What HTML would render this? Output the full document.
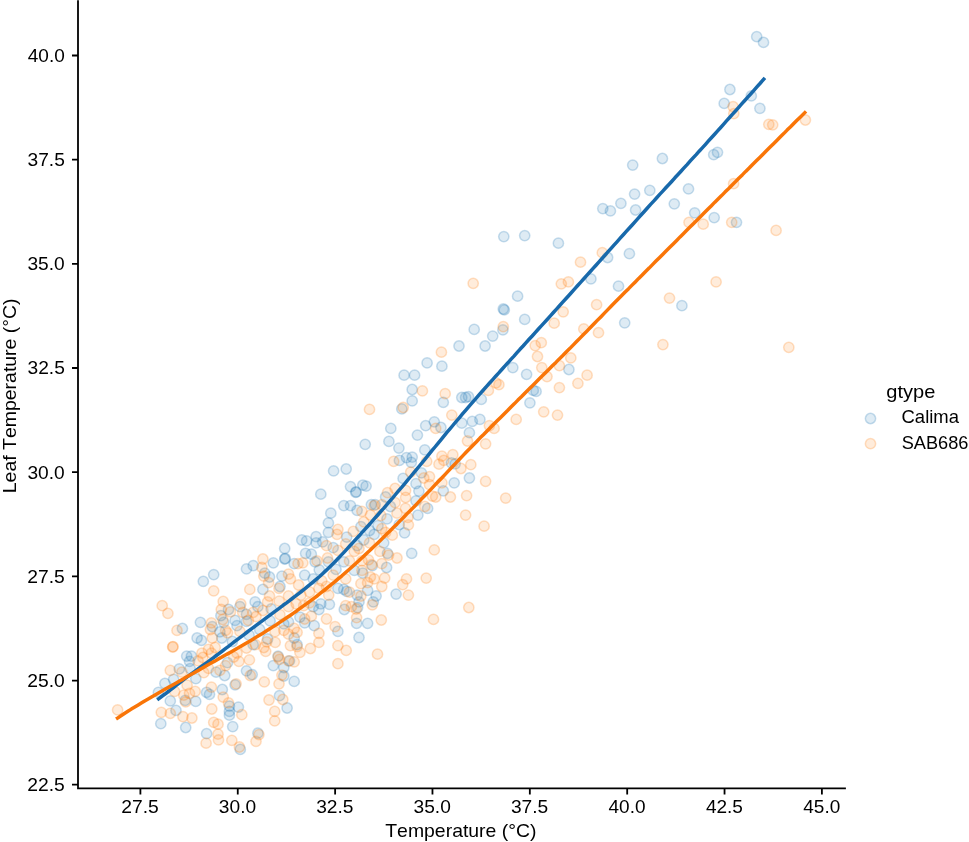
<!DOCTYPE html>
<html><head><meta charset="utf-8"><title>Leaf temperature vs temperature</title>
<style>html,body{margin:0;padding:0;background:#fff;overflow:hidden}svg{display:block;will-change:transform}text{font-family:"Liberation Sans",sans-serif;font-kerning:none}</style>
</head><body>
<svg width="969" height="842" viewBox="0 0 969 842" font-family="'Liberation Sans', sans-serif">
<rect width="969" height="842" fill="#fff"/>
<g fill="#1f77b4" fill-opacity="0.15" stroke="#1f77b4" stroke-opacity="0.24" stroke-width="1.5"><circle cx="158.4" cy="692.4" r="5.15"/><circle cx="170.3" cy="700.9" r="5.15"/><circle cx="160.8" cy="723.7" r="5.15"/><circle cx="176.0" cy="710.4" r="5.15"/><circle cx="206.6" cy="692.4" r="5.15"/><circle cx="209.5" cy="694.3" r="5.15"/><circle cx="185.2" cy="700.4" r="5.15"/><circle cx="195.7" cy="701.4" r="5.15"/><circle cx="222.3" cy="689.5" r="5.15"/><circle cx="229.4" cy="706.1" r="5.15"/><circle cx="229.4" cy="711.4" r="5.15"/><circle cx="229.4" cy="715.2" r="5.15"/><circle cx="238.4" cy="707.1" r="5.15"/><circle cx="185.7" cy="727.5" r="5.15"/><circle cx="232.7" cy="726.6" r="5.15"/><circle cx="206.6" cy="733.7" r="5.15"/><circle cx="240.3" cy="749.4" r="5.15"/><circle cx="257.9" cy="733.2" r="5.15"/><circle cx="235.1" cy="684.8" r="5.15"/><circle cx="294.2" cy="681.4" r="5.15"/><circle cx="279.5" cy="695.7" r="5.15"/><circle cx="287.1" cy="708.0" r="5.15"/><circle cx="179.3" cy="668.9" r="5.15"/><circle cx="173.6" cy="679.3" r="5.15"/><circle cx="239.9" cy="606.7" r="5.15"/><circle cx="255.1" cy="601.9" r="5.15"/><circle cx="257.9" cy="606.7" r="5.15"/><circle cx="228.5" cy="609.5" r="5.15"/><circle cx="246.5" cy="614.3" r="5.15"/><circle cx="200.4" cy="622.3" r="5.15"/><circle cx="182.4" cy="628.5" r="5.15"/><circle cx="212.3" cy="626.6" r="5.15"/><circle cx="220.9" cy="615.7" r="5.15"/><circle cx="223.7" cy="622.3" r="5.15"/><circle cx="235.1" cy="620.4" r="5.15"/><circle cx="237.0" cy="625.7" r="5.15"/><circle cx="219.9" cy="631.8" r="5.15"/><circle cx="221.8" cy="638.0" r="5.15"/><circle cx="197.1" cy="638.0" r="5.15"/><circle cx="201.4" cy="640.4" r="5.15"/><circle cx="246.5" cy="621.4" r="5.15"/><circle cx="186.7" cy="656.1" r="5.15"/><circle cx="191.4" cy="656.1" r="5.15"/><circle cx="189.5" cy="661.3" r="5.15"/><circle cx="253.2" cy="644.7" r="5.15"/><circle cx="227.5" cy="662.7" r="5.15"/><circle cx="216.1" cy="672.2" r="5.15"/><circle cx="224.7" cy="675.5" r="5.15"/><circle cx="246.5" cy="670.8" r="5.15"/><circle cx="252.2" cy="674.6" r="5.15"/><circle cx="313.2" cy="606.7" r="5.15"/><circle cx="318.9" cy="609.5" r="5.15"/><circle cx="329.4" cy="604.3" r="5.15"/><circle cx="320.8" cy="603.8" r="5.15"/><circle cx="299.9" cy="617.1" r="5.15"/><circle cx="304.7" cy="622.8" r="5.15"/><circle cx="314.2" cy="625.7" r="5.15"/><circle cx="337.9" cy="631.4" r="5.15"/><circle cx="294.2" cy="638.0" r="5.15"/><circle cx="297.1" cy="644.7" r="5.15"/><circle cx="267.6" cy="639.0" r="5.15"/><circle cx="283.8" cy="623.8" r="5.15"/><circle cx="288.5" cy="621.9" r="5.15"/><circle cx="278.1" cy="656.1" r="5.15"/><circle cx="289.5" cy="660.8" r="5.15"/><circle cx="273.3" cy="665.6" r="5.15"/><circle cx="283.8" cy="667.5" r="5.15"/><circle cx="283.8" cy="676.0" r="5.15"/><circle cx="344.3" cy="609.5" r="5.15"/><circle cx="357.6" cy="607.6" r="5.15"/><circle cx="359.0" cy="601.9" r="5.15"/><circle cx="373.3" cy="601.9" r="5.15"/><circle cx="356.6" cy="623.3" r="5.15"/><circle cx="367.6" cy="623.3" r="5.15"/><circle cx="359.0" cy="637.5" r="5.15"/><circle cx="203.3" cy="581.3" r="5.15"/><circle cx="213.7" cy="574.6" r="5.15"/><circle cx="246.5" cy="568.9" r="5.15"/><circle cx="253.2" cy="565.6" r="5.15"/><circle cx="328.4" cy="522.9" r="5.15"/><circle cx="328.4" cy="532.4" r="5.15"/><circle cx="301.8" cy="540.0" r="5.15"/><circle cx="306.6" cy="540.9" r="5.15"/><circle cx="316.1" cy="536.6" r="5.15"/><circle cx="316.1" cy="542.8" r="5.15"/><circle cx="322.7" cy="541.9" r="5.15"/><circle cx="333.2" cy="547.6" r="5.15"/><circle cx="284.7" cy="548.5" r="5.15"/><circle cx="284.7" cy="559.0" r="5.15"/><circle cx="285.2" cy="558.5" r="5.15"/><circle cx="273.3" cy="562.8" r="5.15"/><circle cx="294.2" cy="563.7" r="5.15"/><circle cx="305.6" cy="553.3" r="5.15"/><circle cx="311.3" cy="554.2" r="5.15"/><circle cx="315.1" cy="561.8" r="5.15"/><circle cx="328.4" cy="561.8" r="5.15"/><circle cx="264.8" cy="573.2" r="5.15"/><circle cx="269.5" cy="577.0" r="5.15"/><circle cx="281.9" cy="576.1" r="5.15"/><circle cx="304.7" cy="575.1" r="5.15"/><circle cx="280.0" cy="586.5" r="5.15"/><circle cx="262.9" cy="589.4" r="5.15"/><circle cx="313.2" cy="578.9" r="5.15"/><circle cx="336.0" cy="569.4" r="5.15"/><circle cx="337.9" cy="588.4" r="5.15"/><circle cx="346.7" cy="537.1" r="5.15"/><circle cx="360.9" cy="526.7" r="5.15"/><circle cx="369.5" cy="530.5" r="5.15"/><circle cx="378.0" cy="525.7" r="5.15"/><circle cx="374.2" cy="534.3" r="5.15"/><circle cx="404.6" cy="532.8" r="5.15"/><circle cx="383.7" cy="542.8" r="5.15"/><circle cx="363.8" cy="540.0" r="5.15"/><circle cx="357.1" cy="545.7" r="5.15"/><circle cx="387.5" cy="553.3" r="5.15"/><circle cx="411.7" cy="553.3" r="5.15"/><circle cx="343.8" cy="561.8" r="5.15"/><circle cx="372.3" cy="565.6" r="5.15"/><circle cx="386.6" cy="567.5" r="5.15"/><circle cx="354.3" cy="570.4" r="5.15"/><circle cx="362.8" cy="573.2" r="5.15"/><circle cx="367.6" cy="590.3" r="5.15"/><circle cx="343.8" cy="589.4" r="5.15"/><circle cx="346.7" cy="591.3" r="5.15"/><circle cx="357.1" cy="595.1" r="5.15"/><circle cx="376.1" cy="596.0" r="5.15"/><circle cx="396.1" cy="594.1" r="5.15"/><circle cx="333.6" cy="470.9" r="5.15"/><circle cx="320.8" cy="494.2" r="5.15"/><circle cx="330.8" cy="513.2" r="5.15"/><circle cx="365.2" cy="444.3" r="5.15"/><circle cx="388.9" cy="441.4" r="5.15"/><circle cx="398.9" cy="448.1" r="5.15"/><circle cx="399.4" cy="460.4" r="5.15"/><circle cx="406.5" cy="457.6" r="5.15"/><circle cx="412.2" cy="457.1" r="5.15"/><circle cx="411.3" cy="462.3" r="5.15"/><circle cx="346.2" cy="469.0" r="5.15"/><circle cx="350.5" cy="486.6" r="5.15"/><circle cx="362.8" cy="485.1" r="5.15"/><circle cx="366.1" cy="486.1" r="5.15"/><circle cx="355.7" cy="492.3" r="5.15"/><circle cx="356.2" cy="491.8" r="5.15"/><circle cx="385.6" cy="497.0" r="5.15"/><circle cx="416.0" cy="483.7" r="5.15"/><circle cx="343.8" cy="505.6" r="5.15"/><circle cx="350.5" cy="505.6" r="5.15"/><circle cx="357.1" cy="510.3" r="5.15"/><circle cx="371.4" cy="504.6" r="5.15"/><circle cx="375.2" cy="504.6" r="5.15"/><circle cx="390.4" cy="506.5" r="5.15"/><circle cx="416.0" cy="500.8" r="5.15"/><circle cx="417.9" cy="515.1" r="5.15"/><circle cx="451.4" cy="462.8" r="5.15"/><circle cx="455.2" cy="463.8" r="5.15"/><circle cx="421.4" cy="472.8" r="5.15"/><circle cx="454.2" cy="482.8" r="5.15"/><circle cx="469.4" cy="478.0" r="5.15"/><circle cx="443.3" cy="490.8" r="5.15"/><circle cx="427.6" cy="508.4" r="5.15"/><circle cx="404.1" cy="375.2" r="5.15"/><circle cx="414.6" cy="375.2" r="5.15"/><circle cx="412.2" cy="389.5" r="5.15"/><circle cx="412.2" cy="400.9" r="5.15"/><circle cx="401.8" cy="408.9" r="5.15"/><circle cx="390.8" cy="428.4" r="5.15"/><circle cx="417.4" cy="435.1" r="5.15"/><circle cx="427.1" cy="362.9" r="5.15"/><circle cx="441.9" cy="366.2" r="5.15"/><circle cx="443.3" cy="402.3" r="5.15"/><circle cx="461.8" cy="397.5" r="5.15"/><circle cx="465.6" cy="397.5" r="5.15"/><circle cx="468.5" cy="396.6" r="5.15"/><circle cx="481.3" cy="399.4" r="5.15"/><circle cx="425.7" cy="425.6" r="5.15"/><circle cx="434.3" cy="421.8" r="5.15"/><circle cx="440.9" cy="427.5" r="5.15"/><circle cx="461.8" cy="423.2" r="5.15"/><circle cx="472.3" cy="421.3" r="5.15"/><circle cx="479.9" cy="419.4" r="5.15"/><circle cx="469.4" cy="432.7" r="5.15"/><circle cx="512.8" cy="367.6" r="5.15"/><circle cx="526.6" cy="374.3" r="5.15"/><circle cx="568.9" cy="369.5" r="5.15"/><circle cx="533.3" cy="390.4" r="5.15"/><circle cx="536.1" cy="391.4" r="5.15"/><circle cx="529.9" cy="402.8" r="5.15"/><circle cx="474.2" cy="329.4" r="5.15"/><circle cx="492.7" cy="336.1" r="5.15"/><circle cx="485.1" cy="346.0" r="5.15"/><circle cx="459.0" cy="346.0" r="5.15"/><circle cx="517.6" cy="296.2" r="5.15"/><circle cx="503.3" cy="309.0" r="5.15"/><circle cx="504.3" cy="309.9" r="5.15"/><circle cx="524.7" cy="319.4" r="5.15"/><circle cx="502.9" cy="329.9" r="5.15"/><circle cx="618.5" cy="286.2" r="5.15"/><circle cx="624.7" cy="322.8" r="5.15"/><circle cx="681.9" cy="305.7" r="5.15"/><circle cx="602.8" cy="208.6" r="5.15"/><circle cx="610.4" cy="210.9" r="5.15"/><circle cx="620.9" cy="203.3" r="5.15"/><circle cx="635.6" cy="210.0" r="5.15"/><circle cx="607.6" cy="257.5" r="5.15"/><circle cx="629.4" cy="253.7" r="5.15"/><circle cx="590.9" cy="278.9" r="5.15"/><circle cx="503.8" cy="236.6" r="5.15"/><circle cx="524.7" cy="235.6" r="5.15"/><circle cx="558.4" cy="243.2" r="5.15"/><circle cx="674.3" cy="203.8" r="5.15"/><circle cx="694.7" cy="212.8" r="5.15"/><circle cx="714.2" cy="217.6" r="5.15"/><circle cx="736.5" cy="222.3" r="5.15"/><circle cx="632.7" cy="165.1" r="5.15"/><circle cx="634.6" cy="194.1" r="5.15"/><circle cx="649.8" cy="190.3" r="5.15"/><circle cx="662.4" cy="158.5" r="5.15"/><circle cx="713.7" cy="154.7" r="5.15"/><circle cx="717.5" cy="152.3" r="5.15"/><circle cx="688.5" cy="188.9" r="5.15"/><circle cx="756.7" cy="36.7" r="5.15"/><circle cx="763.5" cy="42.4" r="5.15"/><circle cx="729.9" cy="89.5" r="5.15"/><circle cx="751.3" cy="95.9" r="5.15"/><circle cx="724.2" cy="103.4" r="5.15"/><circle cx="759.9" cy="108.3" r="5.15"/><circle cx="387.0" cy="518.9" r="5.15"/><circle cx="195.8" cy="678.7" r="5.15"/><circle cx="270.1" cy="620.9" r="5.15"/><circle cx="403.1" cy="478.4" r="5.15"/><circle cx="418.9" cy="491.1" r="5.15"/><circle cx="319.3" cy="569.8" r="5.15"/><circle cx="424.8" cy="449.9" r="5.15"/><circle cx="259.7" cy="629.5" r="5.15"/><circle cx="249.1" cy="635.2" r="5.15"/><circle cx="232.4" cy="641.5" r="5.15"/><circle cx="399.2" cy="524.7" r="5.15"/><circle cx="164.9" cy="683.4" r="5.15"/><circle cx="190.2" cy="668.7" r="5.15"/><circle cx="271.2" cy="609.0" r="5.15"/></g><g fill="#ff7f0e" fill-opacity="0.15" stroke="#ff7f0e" stroke-opacity="0.24" stroke-width="1.5"><circle cx="117.6" cy="709.9" r="5.15"/><circle cx="161.3" cy="712.3" r="5.15"/><circle cx="170.3" cy="713.3" r="5.15"/><circle cx="187.1" cy="685.2" r="5.15"/><circle cx="211.4" cy="687.1" r="5.15"/><circle cx="189.5" cy="693.3" r="5.15"/><circle cx="183.8" cy="695.2" r="5.15"/><circle cx="185.7" cy="701.9" r="5.15"/><circle cx="223.2" cy="697.1" r="5.15"/><circle cx="228.5" cy="702.8" r="5.15"/><circle cx="241.8" cy="714.7" r="5.15"/><circle cx="211.8" cy="709.0" r="5.15"/><circle cx="182.9" cy="716.6" r="5.15"/><circle cx="191.9" cy="718.0" r="5.15"/><circle cx="213.7" cy="722.3" r="5.15"/><circle cx="218.0" cy="724.2" r="5.15"/><circle cx="218.0" cy="734.2" r="5.15"/><circle cx="218.5" cy="739.9" r="5.15"/><circle cx="206.1" cy="743.2" r="5.15"/><circle cx="231.8" cy="740.3" r="5.15"/><circle cx="239.4" cy="747.0" r="5.15"/><circle cx="258.9" cy="734.6" r="5.15"/><circle cx="256.0" cy="741.3" r="5.15"/><circle cx="236.1" cy="683.8" r="5.15"/><circle cx="195.2" cy="691.4" r="5.15"/><circle cx="264.3" cy="681.9" r="5.15"/><circle cx="279.0" cy="683.8" r="5.15"/><circle cx="282.8" cy="699.5" r="5.15"/><circle cx="269.0" cy="700.0" r="5.15"/><circle cx="274.7" cy="711.4" r="5.15"/><circle cx="274.7" cy="720.9" r="5.15"/><circle cx="162.2" cy="605.7" r="5.15"/><circle cx="167.9" cy="613.3" r="5.15"/><circle cx="177.0" cy="630.4" r="5.15"/><circle cx="172.7" cy="647.0" r="5.15"/><circle cx="173.0" cy="646.7" r="5.15"/><circle cx="170.3" cy="670.3" r="5.15"/><circle cx="223.2" cy="601.4" r="5.15"/><circle cx="240.8" cy="603.8" r="5.15"/><circle cx="221.3" cy="609.5" r="5.15"/><circle cx="230.4" cy="611.9" r="5.15"/><circle cx="242.7" cy="612.4" r="5.15"/><circle cx="253.2" cy="612.4" r="5.15"/><circle cx="256.0" cy="616.6" r="5.15"/><circle cx="211.4" cy="622.8" r="5.15"/><circle cx="210.4" cy="629.5" r="5.15"/><circle cx="222.8" cy="619.5" r="5.15"/><circle cx="225.6" cy="630.4" r="5.15"/><circle cx="227.5" cy="632.8" r="5.15"/><circle cx="212.3" cy="638.0" r="5.15"/><circle cx="239.9" cy="631.4" r="5.15"/><circle cx="248.4" cy="620.4" r="5.15"/><circle cx="208.5" cy="649.4" r="5.15"/><circle cx="215.2" cy="647.5" r="5.15"/><circle cx="201.9" cy="653.2" r="5.15"/><circle cx="198.1" cy="660.8" r="5.15"/><circle cx="202.8" cy="657.5" r="5.15"/><circle cx="211.4" cy="653.2" r="5.15"/><circle cx="237.0" cy="653.2" r="5.15"/><circle cx="238.9" cy="661.3" r="5.15"/><circle cx="233.7" cy="657.0" r="5.15"/><circle cx="249.4" cy="659.9" r="5.15"/><circle cx="246.5" cy="648.0" r="5.15"/><circle cx="255.5" cy="644.7" r="5.15"/><circle cx="225.6" cy="665.6" r="5.15"/><circle cx="219.9" cy="670.3" r="5.15"/><circle cx="250.3" cy="675.5" r="5.15"/><circle cx="181.9" cy="672.2" r="5.15"/><circle cx="203.8" cy="672.7" r="5.15"/><circle cx="208.5" cy="668.4" r="5.15"/><circle cx="262.9" cy="610.5" r="5.15"/><circle cx="267.6" cy="601.9" r="5.15"/><circle cx="288.5" cy="606.7" r="5.15"/><circle cx="296.1" cy="603.8" r="5.15"/><circle cx="303.7" cy="605.7" r="5.15"/><circle cx="309.4" cy="602.9" r="5.15"/><circle cx="304.7" cy="619.0" r="5.15"/><circle cx="311.3" cy="616.2" r="5.15"/><circle cx="326.5" cy="619.0" r="5.15"/><circle cx="335.1" cy="626.6" r="5.15"/><circle cx="318.9" cy="633.3" r="5.15"/><circle cx="318.9" cy="642.3" r="5.15"/><circle cx="337.9" cy="645.6" r="5.15"/><circle cx="310.4" cy="648.5" r="5.15"/><circle cx="294.2" cy="628.5" r="5.15"/><circle cx="283.8" cy="630.4" r="5.15"/><circle cx="288.5" cy="634.2" r="5.15"/><circle cx="297.1" cy="632.3" r="5.15"/><circle cx="297.1" cy="646.6" r="5.15"/><circle cx="290.4" cy="645.6" r="5.15"/><circle cx="299.9" cy="652.3" r="5.15"/><circle cx="275.2" cy="642.3" r="5.15"/><circle cx="266.7" cy="641.8" r="5.15"/><circle cx="263.8" cy="647.5" r="5.15"/><circle cx="265.7" cy="651.3" r="5.15"/><circle cx="278.1" cy="657.0" r="5.15"/><circle cx="279.5" cy="659.4" r="5.15"/><circle cx="288.5" cy="660.8" r="5.15"/><circle cx="294.2" cy="661.8" r="5.15"/><circle cx="337.9" cy="663.7" r="5.15"/><circle cx="281.9" cy="675.1" r="5.15"/><circle cx="345.7" cy="605.7" r="5.15"/><circle cx="351.4" cy="606.7" r="5.15"/><circle cx="356.2" cy="609.0" r="5.15"/><circle cx="372.3" cy="604.8" r="5.15"/><circle cx="356.6" cy="617.6" r="5.15"/><circle cx="381.3" cy="620.0" r="5.15"/><circle cx="346.2" cy="650.4" r="5.15"/><circle cx="377.5" cy="654.2" r="5.15"/><circle cx="213.7" cy="590.8" r="5.15"/><circle cx="249.8" cy="589.4" r="5.15"/><circle cx="337.9" cy="529.5" r="5.15"/><circle cx="337.0" cy="534.3" r="5.15"/><circle cx="326.5" cy="545.7" r="5.15"/><circle cx="337.9" cy="550.4" r="5.15"/><circle cx="262.9" cy="559.0" r="5.15"/><circle cx="298.0" cy="563.7" r="5.15"/><circle cx="302.8" cy="562.8" r="5.15"/><circle cx="317.0" cy="560.9" r="5.15"/><circle cx="327.5" cy="558.0" r="5.15"/><circle cx="261.9" cy="567.5" r="5.15"/><circle cx="263.8" cy="576.1" r="5.15"/><circle cx="268.6" cy="582.7" r="5.15"/><circle cx="288.5" cy="574.2" r="5.15"/><circle cx="290.4" cy="578.9" r="5.15"/><circle cx="279.0" cy="588.4" r="5.15"/><circle cx="269.5" cy="596.0" r="5.15"/><circle cx="288.5" cy="596.0" r="5.15"/><circle cx="300.9" cy="595.1" r="5.15"/><circle cx="321.8" cy="580.8" r="5.15"/><circle cx="326.5" cy="586.5" r="5.15"/><circle cx="318.9" cy="588.4" r="5.15"/><circle cx="333.2" cy="575.1" r="5.15"/><circle cx="353.3" cy="531.4" r="5.15"/><circle cx="345.7" cy="543.8" r="5.15"/><circle cx="363.8" cy="521.9" r="5.15"/><circle cx="381.8" cy="528.6" r="5.15"/><circle cx="408.4" cy="524.8" r="5.15"/><circle cx="392.3" cy="535.2" r="5.15"/><circle cx="385.6" cy="532.4" r="5.15"/><circle cx="369.5" cy="542.8" r="5.15"/><circle cx="359.0" cy="548.5" r="5.15"/><circle cx="354.3" cy="551.4" r="5.15"/><circle cx="379.9" cy="551.4" r="5.15"/><circle cx="388.5" cy="555.2" r="5.15"/><circle cx="397.0" cy="558.0" r="5.15"/><circle cx="349.5" cy="560.9" r="5.15"/><circle cx="361.9" cy="560.9" r="5.15"/><circle cx="368.5" cy="559.9" r="5.15"/><circle cx="371.4" cy="564.7" r="5.15"/><circle cx="381.8" cy="563.7" r="5.15"/><circle cx="361.9" cy="570.4" r="5.15"/><circle cx="345.7" cy="578.9" r="5.15"/><circle cx="370.4" cy="577.0" r="5.15"/><circle cx="374.2" cy="578.9" r="5.15"/><circle cx="384.7" cy="578.0" r="5.15"/><circle cx="360.9" cy="583.7" r="5.15"/><circle cx="367.6" cy="582.7" r="5.15"/><circle cx="381.8" cy="586.5" r="5.15"/><circle cx="406.5" cy="578.9" r="5.15"/><circle cx="402.7" cy="584.6" r="5.15"/><circle cx="349.5" cy="592.2" r="5.15"/><circle cx="360.9" cy="596.0" r="5.15"/><circle cx="408.4" cy="595.1" r="5.15"/><circle cx="484.1" cy="526.2" r="5.15"/><circle cx="434.3" cy="549.9" r="5.15"/><circle cx="426.2" cy="578.1" r="5.15"/><circle cx="393.7" cy="461.4" r="5.15"/><circle cx="387.5" cy="492.7" r="5.15"/><circle cx="395.1" cy="488.5" r="5.15"/><circle cx="405.6" cy="490.4" r="5.15"/><circle cx="405.6" cy="497.5" r="5.15"/><circle cx="374.2" cy="505.6" r="5.15"/><circle cx="381.8" cy="504.6" r="5.15"/><circle cx="361.9" cy="511.3" r="5.15"/><circle cx="370.4" cy="515.1" r="5.15"/><circle cx="395.1" cy="502.7" r="5.15"/><circle cx="397.0" cy="513.2" r="5.15"/><circle cx="467.5" cy="441.0" r="5.15"/><circle cx="485.6" cy="443.8" r="5.15"/><circle cx="426.7" cy="461.4" r="5.15"/><circle cx="441.9" cy="456.2" r="5.15"/><circle cx="443.8" cy="460.4" r="5.15"/><circle cx="439.0" cy="464.2" r="5.15"/><circle cx="452.8" cy="454.7" r="5.15"/><circle cx="460.9" cy="468.5" r="5.15"/><circle cx="470.8" cy="464.7" r="5.15"/><circle cx="429.5" cy="476.6" r="5.15"/><circle cx="423.8" cy="478.0" r="5.15"/><circle cx="485.6" cy="481.3" r="5.15"/><circle cx="441.9" cy="482.8" r="5.15"/><circle cx="429.5" cy="484.7" r="5.15"/><circle cx="435.7" cy="497.0" r="5.15"/><circle cx="432.4" cy="496.1" r="5.15"/><circle cx="450.4" cy="497.0" r="5.15"/><circle cx="466.6" cy="495.6" r="5.15"/><circle cx="424.8" cy="506.5" r="5.15"/><circle cx="465.6" cy="515.1" r="5.15"/><circle cx="505.7" cy="498.1" r="5.15"/><circle cx="369.5" cy="409.4" r="5.15"/><circle cx="403.2" cy="407.5" r="5.15"/><circle cx="422.4" cy="390.9" r="5.15"/><circle cx="445.2" cy="393.7" r="5.15"/><circle cx="488.4" cy="390.4" r="5.15"/><circle cx="496.0" cy="382.8" r="5.15"/><circle cx="498.9" cy="384.7" r="5.15"/><circle cx="451.8" cy="415.1" r="5.15"/><circle cx="435.7" cy="428.4" r="5.15"/><circle cx="489.4" cy="425.6" r="5.15"/><circle cx="494.1" cy="428.4" r="5.15"/><circle cx="541.8" cy="367.6" r="5.15"/><circle cx="547.0" cy="376.6" r="5.15"/><circle cx="559.4" cy="365.7" r="5.15"/><circle cx="577.9" cy="383.3" r="5.15"/><circle cx="559.4" cy="387.6" r="5.15"/><circle cx="543.7" cy="411.8" r="5.15"/><circle cx="557.5" cy="415.1" r="5.15"/><circle cx="516.2" cy="419.4" r="5.15"/><circle cx="587.1" cy="375.2" r="5.15"/><circle cx="473.2" cy="283.3" r="5.15"/><circle cx="441.4" cy="352.2" r="5.15"/><circle cx="561.3" cy="283.8" r="5.15"/><circle cx="568.4" cy="281.9" r="5.15"/><circle cx="503.3" cy="326.6" r="5.15"/><circle cx="563.2" cy="311.8" r="5.15"/><circle cx="554.2" cy="323.2" r="5.15"/><circle cx="535.2" cy="345.6" r="5.15"/><circle cx="541.3" cy="342.7" r="5.15"/><circle cx="537.5" cy="356.5" r="5.15"/><circle cx="570.8" cy="357.9" r="5.15"/><circle cx="596.6" cy="304.7" r="5.15"/><circle cx="583.8" cy="328.9" r="5.15"/><circle cx="598.5" cy="332.7" r="5.15"/><circle cx="716.1" cy="281.9" r="5.15"/><circle cx="669.5" cy="298.1" r="5.15"/><circle cx="662.9" cy="344.6" r="5.15"/><circle cx="776.1" cy="230.4" r="5.15"/><circle cx="788.8" cy="347.3" r="5.15"/><circle cx="602.3" cy="252.7" r="5.15"/><circle cx="580.5" cy="262.2" r="5.15"/><circle cx="689.0" cy="222.3" r="5.15"/><circle cx="703.2" cy="224.2" r="5.15"/><circle cx="731.7" cy="222.3" r="5.15"/><circle cx="733.6" cy="183.7" r="5.15"/><circle cx="733.1" cy="106.6" r="5.15"/><circle cx="733.8" cy="113.6" r="5.15"/><circle cx="768.8" cy="124.3" r="5.15"/><circle cx="772.7" cy="124.8" r="5.15"/><circle cx="805.4" cy="120.0" r="5.15"/><circle cx="468.8" cy="607.5" r="5.15"/><circle cx="433.5" cy="619.4" r="5.15"/><circle cx="279.2" cy="601.2" r="5.15"/><circle cx="298.6" cy="585.0" r="5.15"/><circle cx="279.9" cy="614.7" r="5.15"/><circle cx="405.5" cy="508.3" r="5.15"/><circle cx="309.6" cy="592.0" r="5.15"/><circle cx="328.7" cy="595.1" r="5.15"/><circle cx="275.0" cy="631.6" r="5.15"/><circle cx="174.6" cy="691.4" r="5.15"/><circle cx="410.7" cy="472.1" r="5.15"/><circle cx="380.8" cy="515.5" r="5.15"/><circle cx="407.9" cy="517.3" r="5.15"/></g>
<path d="M158.6 698.8 L161.6 696.5 L164.7 694.3 L167.7 692.0 L170.8 689.6 L173.8 687.3 L176.8 684.9 L179.9 682.6 L182.9 680.2 L185.9 677.9 L189.0 675.6 L192.0 673.4 L195.1 671.2 L198.1 669.0 L201.1 666.7 L204.2 664.5 L207.2 662.3 L210.2 660.1 L213.3 657.8 L216.3 655.5 L219.3 653.3 L222.4 651.0 L225.4 648.7 L228.5 646.4 L231.5 644.0 L234.5 641.7 L237.6 639.4 L240.6 637.1 L243.6 634.8 L246.7 632.5 L249.7 630.2 L252.8 627.9 L255.8 625.7 L258.8 623.4 L261.9 621.1 L264.9 618.9 L267.9 616.6 L271.0 614.3 L274.0 612.1 L277.1 609.8 L280.1 607.6 L283.1 605.3 L286.2 603.1 L289.2 600.8 L292.2 598.5 L295.3 596.2 L298.3 593.9 L301.4 591.5 L304.4 589.2 L307.4 586.7 L310.5 584.2 L313.5 581.7 L316.5 579.1 L319.6 576.5 L322.6 573.7 L325.6 570.9 L328.7 568.0 L331.7 565.0 L334.8 562.0 L337.8 558.8 L340.8 555.6 L343.9 552.4 L346.9 549.1 L349.9 545.8 L353.0 542.4 L356.0 539.1 L359.1 535.8 L362.1 532.4 L365.1 529.1 L368.2 525.7 L371.2 522.3 L374.2 518.9 L377.3 515.5 L380.3 512.0 L383.4 508.6 L386.4 505.1 L389.4 501.6 L392.5 498.1 L395.5 494.5 L398.5 490.9 L401.6 487.4 L404.6 483.8 L407.6 480.2 L410.7 476.5 L413.7 472.9 L416.8 469.2 L419.8 465.5 L422.8 461.8 L425.9 458.1 L428.9 454.4 L431.9 450.7 L435.0 447.0 L438.0 443.3 L441.1 439.6 L444.1 435.9 L447.1 432.2 L450.2 428.6 L453.2 425.0 L456.2 421.4 L459.3 417.8 L462.3 414.2 L465.4 410.6 L468.4 407.1 L471.4 403.6 L474.5 400.1 L477.5 396.7 L480.5 393.2 L483.6 389.8 L486.6 386.4 L489.6 383.0 L492.7 379.6 L495.7 376.2 L498.8 372.9 L501.8 369.5 L504.8 366.1 L507.9 362.8 L510.9 359.4 L514.0 356.1 L517.0 352.7 L520.0 349.3 L523.1 346.0 L526.1 342.6 L529.1 339.3 L532.2 336.0 L535.2 332.6 L538.2 329.3 L541.3 325.9 L544.3 322.6 L547.4 319.2 L550.4 315.9 L553.4 312.5 L556.5 309.1 L559.5 305.8 L562.5 302.4 L565.6 299.0 L568.6 295.7 L571.7 292.3 L574.7 288.9 L577.7 285.5 L580.8 282.1 L583.8 278.8 L586.8 275.4 L589.9 272.0 L592.9 268.6 L596.0 265.2 L599.0 261.9 L602.0 258.5 L605.1 255.1 L608.1 251.7 L611.1 248.3 L614.2 244.9 L617.2 241.6 L620.2 238.2 L623.3 234.8 L626.3 231.4 L629.4 228.0 L632.4 224.7 L635.4 221.3 L638.5 217.9 L641.5 214.5 L644.5 211.2 L647.6 207.8 L650.6 204.4 L653.7 201.1 L656.7 197.8 L659.7 194.4 L662.8 191.1 L665.8 187.8 L668.9 184.5 L671.9 181.2 L674.9 177.8 L678.0 174.5 L681.0 171.2 L684.0 167.9 L687.1 164.6 L690.1 161.2 L693.1 157.9 L696.2 154.6 L699.2 151.2 L702.3 147.9 L705.3 144.6 L708.3 141.2 L711.4 137.8 L714.4 134.5 L717.4 131.1 L720.5 127.7 L723.5 124.3 L726.5 120.9 L729.6 117.5 L732.6 114.1 L735.7 110.7 L738.7 107.3 L741.7 103.9 L744.8 100.5 L747.8 97.1 L750.9 93.7 L753.9 90.3 L756.9 86.9 L760.0 83.5 L763.8 79.1" fill="none" stroke="#1869ab" stroke-width="3.5" stroke-linecap="square" stroke-linejoin="round"/><path d="M117.5 718.1 L121.0 715.8 L124.4 713.5 L127.9 711.3 L131.3 709.1 L134.8 707.0 L138.2 704.9 L141.7 702.8 L145.1 700.7 L148.6 698.7 L152.0 696.7 L155.5 694.7 L158.9 692.8 L162.4 690.8 L165.8 688.8 L169.3 686.9 L172.7 685.0 L176.2 683.0 L179.6 681.0 L183.1 679.1 L186.5 677.1 L190.0 675.1 L193.4 673.2 L196.9 671.2 L200.3 669.2 L203.8 667.2 L207.2 665.3 L210.7 663.3 L214.2 661.4 L217.6 659.4 L221.1 657.5 L224.5 655.5 L228.0 653.6 L231.4 651.7 L234.9 649.7 L238.3 647.8 L241.8 645.8 L245.2 643.8 L248.7 641.7 L252.1 639.7 L255.6 637.6 L259.0 635.5 L262.5 633.4 L265.9 631.3 L269.4 629.1 L272.8 626.9 L276.3 624.7 L279.7 622.4 L283.2 620.1 L286.6 617.8 L290.1 615.5 L293.5 613.1 L297.0 610.7 L300.4 608.2 L303.9 605.7 L307.4 603.2 L310.8 600.7 L314.2 598.1 L317.7 595.5 L321.1 592.7 L324.6 590.0 L328.1 587.2 L331.5 584.4 L335.0 581.6 L338.4 578.7 L341.9 575.8 L345.3 572.8 L348.8 569.7 L352.2 566.7 L355.7 563.6 L359.1 560.4 L362.6 557.3 L366.0 554.0 L369.5 550.8 L372.9 547.5 L376.4 544.2 L379.8 540.9 L383.3 537.5 L386.7 534.1 L390.2 530.7 L393.6 527.3 L397.1 523.9 L400.5 520.4 L404.0 516.9 L407.4 513.4 L410.9 509.9 L414.4 506.4 L417.8 502.9 L421.2 499.3 L424.7 495.7 L428.2 492.1 L431.6 488.6 L435.1 484.9 L438.5 481.3 L442.0 477.7 L445.4 474.1 L448.9 470.4 L452.3 466.8 L455.8 463.1 L459.2 459.5 L462.7 455.9 L466.1 452.3 L469.6 448.8 L473.0 445.2 L476.5 441.7 L479.9 438.1 L483.4 434.7 L486.8 431.2 L490.3 427.7 L493.7 424.3 L497.2 420.8 L500.6 417.4 L504.1 413.9 L507.6 410.5 L511.0 407.0 L514.5 403.6 L517.9 400.1 L521.4 396.7 L524.8 393.2 L528.3 389.8 L531.7 386.4 L535.2 382.9 L538.6 379.5 L542.1 376.1 L545.5 372.7 L549.0 369.2 L552.4 365.8 L555.9 362.4 L559.3 358.9 L562.8 355.5 L566.2 352.0 L569.7 348.6 L573.1 345.1 L576.6 341.6 L580.0 338.1 L583.5 334.6 L586.9 331.1 L590.4 327.5 L593.8 324.0 L597.3 320.4 L600.8 316.9 L604.2 313.4 L607.6 309.9 L611.1 306.3 L614.5 302.8 L618.0 299.3 L621.5 295.8 L624.9 292.3 L628.4 288.9 L631.8 285.4 L635.3 281.9 L638.7 278.4 L642.2 275.0 L645.6 271.5 L649.1 268.1 L652.5 264.6 L656.0 261.1 L659.4 257.7 L662.9 254.2 L666.3 250.8 L669.8 247.3 L673.2 243.9 L676.7 240.4 L680.1 236.9 L683.6 233.5 L687.0 230.1 L690.5 226.6 L693.9 223.2 L697.4 219.7 L700.9 216.2 L704.3 212.8 L707.8 209.3 L711.2 205.9 L714.6 202.4 L718.1 199.0 L721.6 195.6 L725.0 192.1 L728.5 188.7 L731.9 185.2 L735.4 181.8 L738.8 178.3 L742.3 174.9 L745.7 171.4 L749.2 168.0 L752.6 164.5 L756.1 161.1 L759.5 157.7 L763.0 154.2 L766.4 150.8 L769.9 147.3 L773.3 143.9 L776.8 140.4 L780.2 137.0 L783.7 133.6 L787.1 130.1 L790.6 126.7 L794.0 123.2 L797.5 119.8 L801.0 116.4 L804.8 112.6" fill="none" stroke="#f97508" stroke-width="3.5" stroke-linecap="square" stroke-linejoin="round"/>
<path d="M78 1.2 V788.4 H845" fill="none" stroke="#000" stroke-width="1.8" stroke-linecap="square" stroke-linejoin="miter"/>
<path d="M72 784.71H78M72 680.53H78M72 576.36H78M72 472.19H78M72 368.02H78M72 263.84H78M72 159.67H78M72 55.50H78M140.40 788.4V794.6M237.76 788.4V794.6M335.12 788.4V794.6M432.47 788.4V794.6M529.83 788.4V794.6M627.19 788.4V794.6M724.54 788.4V794.6M821.90 788.4V794.6" stroke="#000" stroke-width="1.8" fill="none"/>
<text x="27.23" y="791.11" font-size="17.7" textLength="37.58" lengthAdjust="spacingAndGlyphs" fill="#000">22.5</text>
<text x="27.23" y="686.93" font-size="17.7" textLength="37.52" lengthAdjust="spacingAndGlyphs" fill="#000">25.0</text>
<text x="27.23" y="582.76" font-size="17.7" textLength="37.58" lengthAdjust="spacingAndGlyphs" fill="#000">27.5</text>
<text x="27.47" y="478.59" font-size="17.7" textLength="37.28" lengthAdjust="spacingAndGlyphs" fill="#000">30.0</text>
<text x="27.47" y="374.42" font-size="17.7" textLength="37.34" lengthAdjust="spacingAndGlyphs" fill="#000">32.5</text>
<text x="27.47" y="270.24" font-size="17.7" textLength="37.28" lengthAdjust="spacingAndGlyphs" fill="#000">35.0</text>
<text x="27.47" y="166.07" font-size="17.7" textLength="37.34" lengthAdjust="spacingAndGlyphs" fill="#000">37.5</text>
<text x="27.76" y="61.90" font-size="17.7" textLength="36.98" lengthAdjust="spacingAndGlyphs" fill="#000">40.0</text>
<text x="121.23" y="812.90" font-size="17.7" textLength="37.58" lengthAdjust="spacingAndGlyphs" fill="#000">27.5</text>
<text x="218.83" y="812.90" font-size="17.7" textLength="37.28" lengthAdjust="spacingAndGlyphs" fill="#000">30.0</text>
<text x="316.18" y="812.90" font-size="17.7" textLength="37.34" lengthAdjust="spacingAndGlyphs" fill="#000">32.5</text>
<text x="413.54" y="812.90" font-size="17.7" textLength="37.28" lengthAdjust="spacingAndGlyphs" fill="#000">35.0</text>
<text x="510.90" y="812.90" font-size="17.7" textLength="37.34" lengthAdjust="spacingAndGlyphs" fill="#000">37.5</text>
<text x="608.55" y="812.90" font-size="17.7" textLength="36.98" lengthAdjust="spacingAndGlyphs" fill="#000">40.0</text>
<text x="705.91" y="812.90" font-size="17.7" textLength="37.04" lengthAdjust="spacingAndGlyphs" fill="#000">42.5</text>
<text x="803.27" y="812.90" font-size="17.7" textLength="36.98" lengthAdjust="spacingAndGlyphs" fill="#000">45.0</text>
<text x="385.26" y="836.90" font-size="17.7" textLength="151.24" lengthAdjust="spacingAndGlyphs" fill="#000">Temperature (°C)</text>
<text transform="translate(15.50,493.20) rotate(-90)" x="0" y="0" font-size="17.7" textLength="194.80" lengthAdjust="spacingAndGlyphs">Leaf Temperature (°C)</text>
<text x="886.36" y="398.00" font-size="17.7" textLength="49.03" lengthAdjust="spacingAndGlyphs" fill="#000">gtype</text>
<text x="901.56" y="423.40" font-size="17.7" textLength="57.44" lengthAdjust="spacingAndGlyphs" fill="#000">Calima</text>
<text x="901.67" y="448.60" font-size="17.7" textLength="66.72" lengthAdjust="spacingAndGlyphs" fill="#000">SAB686</text>
<g fill="#1f77b4" fill-opacity="0.15" stroke="#1f77b4" stroke-opacity="0.24" stroke-width="1.5"><circle cx="870.5" cy="418.5" r="5.15"/></g>
<g fill="#ff7f0e" fill-opacity="0.15" stroke="#ff7f0e" stroke-opacity="0.24" stroke-width="1.5"><circle cx="870.5" cy="443.7" r="5.15"/></g>
</svg>
</body></html>
